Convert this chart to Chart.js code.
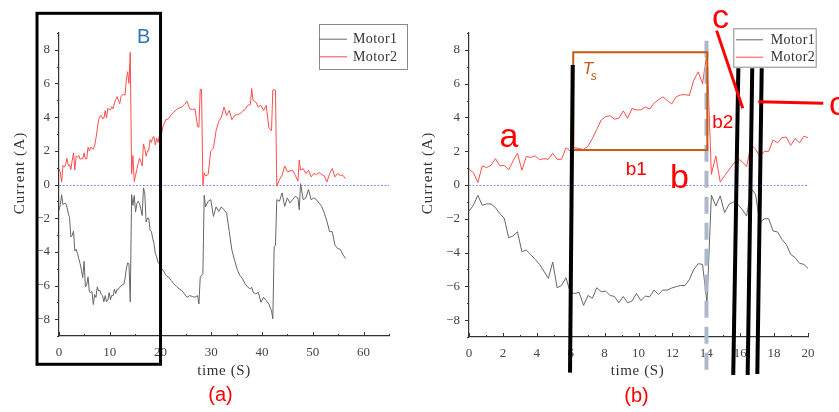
<!DOCTYPE html>
<html>
<head>
<meta charset="utf-8">
<script src="https://cdn.jsdelivr.net/npm/chart.js@4.4.0/dist/chart.umd.min.js"></script>
<style>
html, body { margin: 0; padding: 0; background: #fff; }
#figure { position: relative; width: 839px; height: 412px; overflow: hidden; }
#figure canvas { position: absolute; top: 0; }
</style>
</head>
<body>
<div id="figure">
  <canvas id="chartA" width="420" height="412" style="left:0"></canvas>
  <canvas id="chartB" width="419" height="412" style="left:420px"></canvas>
</div>
<script>
'use strict';

// sample times (s): 0.26 s steps up to 20 s, every other sample after that
var time = [
  0, 0.26, 0.52, 0.78, 1.04, 1.3, 1.56, 1.82, 2.08, 2.34,
  2.6, 2.86, 3.12, 3.38, 3.64, 3.9, 4.16, 4.42, 4.68, 4.94,
  5.2, 5.46, 5.72, 5.98, 6.24, 6.5, 6.76, 7.02, 7.28, 7.54,
  7.8, 8.06, 8.32, 8.58, 8.84, 9.1, 9.36, 9.62, 9.88, 10.14,
  10.4, 10.66, 10.92, 11.18, 11.44, 11.7, 11.96, 12.22, 12.48, 12.74,
  13, 13.26, 13.52, 13.78, 14.04, 14.3, 14.56, 14.82, 15.08, 15.34,
  15.6, 15.86, 16.12, 16.38, 16.64, 16.9, 17.16, 17.42, 17.68, 17.94,
  18.2, 18.46, 18.72, 18.98, 19.24, 19.5, 19.76, 20.02,
  20.54, 21.06, 21.58, 22.1, 22.62, 23.14, 23.66, 24.18, 24.7, 25.22,
  25.74, 26.26, 26.78, 27.3, 27.56, 27.82, 28.08, 28.34, 28.6, 28.86,
  29.38, 29.9, 30.42, 30.94, 31.46, 31.98, 32.5, 33.02, 33.54, 34.06,
  34.58, 35.1, 35.62, 36.14, 36.66, 37.18, 37.7, 37.96, 38.22, 38.74,
  39.26, 39.78, 40.3, 40.82, 41.34, 41.86, 42.12, 42.38, 42.64, 42.9,
  43.42, 43.94, 44.46, 44.98, 45.5, 46.02, 46.54, 47.06, 47.32, 47.58,
  48.1, 48.62, 49.14, 49.66, 50.18, 50.7, 51.22, 51.74, 52.26, 52.78,
  53.3, 53.82, 54.34, 54.86, 55.38, 55.9, 56.42
];

// Motor1 current (A)
var motor1 = [
  -1.54, -1.2, -0.61, -1.2, -1.12, -1.12, -1.34, -1.7, -1.97, -3.12,
  -3.02, -2.77, -3.95, -3.85, -4.11, -4.4, -4.7, -5.1, -5.53, -4.56,
  -6.08, -5.95, -5.49, -6.38, -6.42, -6.36, -7.13, -6.54, -6.71, -6.08,
  -6.32, -6.28, -6.54, -6.6, -6.97, -6.6, -6.97, -6.87, -6.42, -6.84,
  -6.58, -6.62, -6.22, -6.48, -6.22, -6.22, -6.1, -6.02, -5.95, -5.95,
  -5.6, -5.0, -4.66, -4.7, -6.97, -0.6, -1.24, -0.65, -1.64, -1.14,
  -1.0, -1.14, -1.45, -1.84, -0.2, -0.55, -2.23, -2.0, -2.0, -2.72,
  -2.78, -3.22, -3.52, -4.11, -4.3, -4.64, -4.7, -4.96,
  -5.1, -5.4, -5.5, -5.7, -5.9, -6.05, -6.2, -6.3, -6.5, -6.7,
  -6.6, -6.65, -6.7, -6.6, -7.1, -5.5, -5.4, -5.3, -0.64, -1.33,
  -1.0, -0.9, -1.9, -1.33, -1.6, -1.33, -1.5, -1.7, -2.8, -3.9,
  -4.5, -5.05, -5.4, -5.6, -5.9, -6.1, -6.2, -6.1, -6.4, -6.5,
  -6.4, -7.0, -6.7, -6.9, -7.1, -7.5, -7.98, -3.7, -3.6, -0.9,
  -1.0, -0.5, -1.3, -0.8, -1.1, -0.9, -0.7, -0.8, -1.5, 0.05,
  -0.9, -0.8, -0.3, -0.9, -0.8, -0.9, -1.1, -1.3, -1.7, -2.2,
  -2.8, -2.8, -3.6, -3.8, -3.85, -4.15, -4.4
];

// Motor2 current (A)
var motor2 = [
  0.93, 0.73, 0.14, 1.13, 1.03, 1.17, 1.56, 1.13, 1.17, 0.89,
  1.43, 1.88, 0.87, 1.69, 1.63, 1.73, 1.5, 1.56, 1.52, 1.88,
  1.52, 1.52, 2.21, 2.0, 2.21, 2.15, 2.1, 2.3, 2.75, 3.3,
  3.85, 4.05, 4.1, 3.9, 3.95, 4.39, 3.95, 4.53, 4.45, 4.45,
  4.62, 4.5, 4.85, 5.05, 5.22, 5.0, 4.8, 5.22, 5.33, 5.35,
  5.3, 6.2, 6.7, 6.0, 7.85, 0.63, 1.72, 0.18, 0.55, 0.9,
  1.25, 1.56, 1.37, 1.1, 2.41, 2.12, 1.69, 1.99, 2.0, 2.67,
  2.5, 2.8, 2.84, 2.35, 2.75, 2.5, 2.89, 2.79,
  3.5, 3.85, 3.9, 4.15, 4.3, 4.45, 4.55, 4.6, 4.75, 4.95,
  4.5, 4.45, 4.5, 3.45, 3.4, 5.65, 5.65, -0.05, 0.7, 0.5,
  0.6, 2.0, 2.15, 3.2, 3.75, 4.0, 4.6, 4.1, 4.4, 3.85,
  4.1, 4.15, 4.2, 4.35, 4.45, 4.7, 4.75, 5.7, 5.0, 4.9,
  4.6, 4.7, 4.4, 4.7, 3.35, 3.2, 5.62, 5.62, 5.6, -0.1,
  0.3, 0.55, 1.1, 0.75, 0.8, 0.85, 0.55, 0.2, 1.45, 0.85,
  0.95, 0.65, 0.85, 0.45, 0.65, 0.6, 0.7, 0.6, 0.5, 0.15,
  0.65, 0.95, 0.45, 0.65, 0.55, 0.55, 0.35
];

var seriesNames = ['Motor1', 'Motor2'];
var seriesColors = ['#666666', '#ff4d4d'];

var TICK_FONT = '"Liberation Serif", serif';

function points(values) {
  return values.map(function(v, i) { return {x: time[i], y: v}; });
}

function minus(v) {
  return String(v).replace('-', '\u2212');
}

function toPx(chart, x, y) {
  return [chart.scales.x.getPixelForValue(x), chart.scales.y.getPixelForValue(y)];
}

// outward ticks on y, inward ticks on x; unlabelled ticks are the short minor ones
function drawTickMarks(chart) {
  var ctx = chart.ctx, xs = chart.scales.x, ys = chart.scales.y;
  ctx.strokeStyle = '#333';
  ctx.lineWidth = 1;
  ctx.setLineDash([]);
  ctx.beginPath();
  ys.ticks.forEach(function(t) {
    var y = Math.round(ys.getPixelForValue(t.value)) + 0.5;
    var len = t.label ? 4 : 2;
    ctx.moveTo(ys.right - len, y);
    ctx.lineTo(ys.right, y);
  });
  xs.ticks.forEach(function(t) {
    var x = Math.round(xs.getPixelForValue(t.value)) + 0.5;
    var len = t.label ? 4 : 2;
    ctx.moveTo(x, xs.top);
    ctx.lineTo(x, xs.top - len);
  });
  ctx.stroke();
}

function drawTitles(chart, t) {
  var ctx = chart.ctx;
  ctx.fillStyle = '#333';
  ctx.font = '15px ' + TICK_FONT;
  ctx.textAlign = 'center';
  ctx.textBaseline = 'alphabetic';
  ctx.letterSpacing = '0.6px';
  ctx.fillText('time (S)', t.xCx, t.xY);
  ctx.save();
  ctx.translate(t.yCx, t.yCy);
  ctx.rotate(-Math.PI / 2);
  ctx.textBaseline = 'middle';
  ctx.letterSpacing = '1.1px';
  ctx.fillText('Current (A)', 0, 0);
  ctx.restore();
  ctx.letterSpacing = '0px';
}

function drawMarks(chart, marks) {
  var ctx = chart.ctx;
  marks.forEach(function(m) {
    ctx.save();
    if (m.type === 'text') {
      var p = toPx(chart, m.x, m.y);
      ctx.font = m.font;
      ctx.fillStyle = m.color;
      ctx.textAlign = m.align || 'center';
      ctx.textBaseline = 'alphabetic';
      ctx.fillText(m.text, p[0], p[1]);
    } else {
      var a = toPx(chart, m.x0, m.y0), b = toPx(chart, m.x1, m.y1);
      ctx.strokeStyle = m.color;
      ctx.lineWidth = m.width;
      ctx.setLineDash(m.dash || []);
      if (m.type === 'rect') {
        ctx.strokeRect(a[0], a[1], b[0] - a[0], b[1] - a[1]);
      } else {
        ctx.beginPath();
        ctx.moveTo(a[0], a[1]);
        ctx.lineTo(b[0], b[1]);
        ctx.stroke();
      }
    }
    ctx.restore();
  });
}

function drawLegend(chart, lg) {
  var ctx = chart.ctx;
  ctx.setLineDash([]);
  ctx.fillStyle = '#fff';
  ctx.fillRect(lg.x, lg.y, lg.w, lg.h);
  ctx.strokeStyle = '#8a8a8a';
  ctx.lineWidth = 1;
  ctx.strokeRect(lg.x + 0.5, lg.y + 0.5, lg.w, lg.h);
  ctx.font = '14px ' + TICK_FONT;
  ctx.letterSpacing = '0.4px';
  ctx.textAlign = 'left';
  ctx.textBaseline = 'middle';
  chart.data.datasets.forEach(function(ds, i) {
    var y = lg.rows[i];
    ctx.strokeStyle = ds.borderColor;
    ctx.beginPath();
    ctx.moveTo(lg.lineX0, y + 0.5);
    ctx.lineTo(lg.lineX1, y + 0.5);
    ctx.stroke();
    ctx.fillStyle = '#333';
    ctx.fillText(ds.label, lg.textX, y + 1);
  });
  ctx.letterSpacing = '0px';
}

function figurePlugin(setup) {
  return {
    id: 'figure',
    beforeDatasetsDraw: function(chart) {
      // light blue dotted zero reference
      var ctx = chart.ctx, area = chart.chartArea;
      var y0 = Math.round(chart.scales.y.getPixelForValue(0)) + 0.5;
      ctx.save();
      ctx.strokeStyle = '#8a8aff';
      ctx.lineWidth = 1;
      ctx.setLineDash([2, 1.5]);
      ctx.beginPath();
      ctx.moveTo(area.left, y0);
      ctx.lineTo(area.right, y0);
      ctx.stroke();
      ctx.restore();
    },
    afterDraw: function(chart) {
      chart.ctx.save();
      drawTickMarks(chart);
      drawTitles(chart, setup.titles);
      drawMarks(chart, setup.marks);
      drawLegend(chart, setup.legend);
      chart.ctx.restore();
    }
  };
}

function makeChart(id, setup) {
  var datasets = [motor1, motor2].map(function(values, i) {
    return {
      label: seriesNames[i],
      data: points(values),
      borderColor: seriesColors[i],
      borderWidth: 1,
      pointRadius: 0,
      tension: 0,
      fill: false
    };
  });
  return new Chart(document.getElementById(id), {
    type: 'line',
    data: { datasets: datasets },
    options: {
      responsive: false,
      animation: false,
      devicePixelRatio: 1,
      layout: { padding: setup.padding },
      plugins: { legend: { display: false }, tooltip: { enabled: false } },
      scales: {
        x: {
          type: 'linear',
          min: 0,
          max: setup.xMax,
          afterFit: function(s) { s.height = 30; },
          grid: { drawOnChartArea: false, drawTicks: false },
          border: { display: true, color: '#333', width: 1.2 },
          ticks: {
            stepSize: setup.xMinor,
            autoSkip: false,
            maxRotation: 0,
            padding: 9,
            color: '#444',
            font: { family: TICK_FONT, size: 13 },
            callback: function(v) { return v % setup.xMajor === 0 ? String(v) : ''; }
          }
        },
        y: {
          min: -9,
          max: 9,
          afterFit: function(s) { s.width = 30; },
          grid: { drawOnChartArea: false, drawTicks: false },
          border: { display: true, color: '#333', width: 1.2 },
          ticks: {
            stepSize: 1,
            autoSkip: false,
            padding: 9,
            color: '#444',
            font: { family: TICK_FONT, size: 13 },
            callback: function(v) { return v % 2 === 0 ? minus(v) : ''; }
          }
        }
      }
    },
    plugins: [figurePlugin(setup)]
  });
}

var LABEL_FONT = '"Liberation Sans", Arial, sans-serif';

// full recording
makeChart('chartA', {
  xMax: 65, xMajor: 10, xMinor: 5,
  padding: { left: 29, top: 33, right: 31, bottom: 46 },
  titles: { xCx: 224, xY: 375, yCx: 20, yCy: 173 },
  legend: { x: 319, y: 24, w: 88, h: 45, lineX0: 319, lineX1: 347, textX: 353, rows: [38.7, 56.3] },
  marks: [
    { type: 'rect', x0: -4.33, y0: 10.17, x1: 20, y1: -10.68, color: '#000', width: 3 },
    { type: 'text', x: 16.68, y: 8.41, text: 'B', color: '#2e75b6', font: '20px ' + LABEL_FONT },
    { type: 'text', x: 31.8, y: -12.86, text: '(a)', color: '#ff0000', font: '20px ' + LABEL_FONT }
  ]
});

// first 20 s with the phase marks
makeChart('chartB', {
  xMax: 20, xMajor: 2, xMinor: 1,
  padding: { left: 19, top: 33, right: 31, bottom: 45 },
  titles: { xCx: 217.5, xY: 375, yCx: 8, yCy: 173 },
  legend: { x: 313.3, y: 28.3, w: 82.4, h: 38.4, lineX0: 316, lineX1: 343, textX: 350.7, rows: [39.3, 56.7] },
  marks: [
    { type: 'line', x0: 14.01, y0: 8.54, x1: 14.01, y1: -11.19, color: '#adb9ca', width: 4, dash: [17, 9] },
    { type: 'rect', x0: 6.15, y0: 7.86, x1: 14.06, y1: 2.07, color: '#c55a11', width: 2 },
    { type: 'text', x: 6.71, y: 6.57, text: 'T', color: '#c55a11', font: 'italic 17px ' + LABEL_FONT, align: 'left' },
    { type: 'text', x: 7.18, y: 6.22, text: 's', color: '#c55a11', font: 'italic 12px ' + LABEL_FONT, align: 'left' },
    { type: 'line', x0: 6.12, y0: 7.11, x1: 5.96, y1: -11.11, color: '#000', width: 4 },
    { type: 'line', x0: 15.89, y0: 6.91, x1: 15.59, y1: -11.25, color: '#000', width: 4 },
    { type: 'line', x0: 16.71, y0: 6.91, x1: 16.44, y1: -11.25, color: '#000', width: 4 },
    { type: 'line', x0: 17.27, y0: 6.91, x1: 17.01, y1: -11.19, color: '#000', width: 4 },
    { type: 'line', x0: 14.61, y0: 9.14, x1: 16.15, y1: 4.54, color: '#ff0000', width: 3 },
    { type: 'line', x0: 17.07, y0: 4.93, x1: 20.9, y1: 4.84, color: '#ff0000', width: 3 },
    { type: 'text', x: 2.36, y: 2.25, text: 'a', color: '#ff0000', font: '34px ' + LABEL_FONT },
    { type: 'text', x: 9.87, y: 0.59, text: 'b1', color: '#ff0000', font: '19px ' + LABEL_FONT },
    { type: 'text', x: 12.42, y: -0.18, text: 'b', color: '#ff0000', font: '34px ' + LABEL_FONT },
    { type: 'text', x: 14.97, y: 3.38, text: 'b2', color: '#ff0000', font: '19px ' + LABEL_FONT },
    { type: 'text', x: 14.84, y: 9.3, text: 'c', color: '#ff0000', font: '34px ' + LABEL_FONT },
    { type: 'text', x: 21.24, y: 4.14, text: 'c', color: '#ff0000', font: '34px ' + LABEL_FONT, align: 'left' },
    { type: 'text', x: 9.88, y: -12.85, text: '(b)', color: '#ff0000', font: '20px ' + LABEL_FONT }
  ]
});
</script>
</body>
</html>
